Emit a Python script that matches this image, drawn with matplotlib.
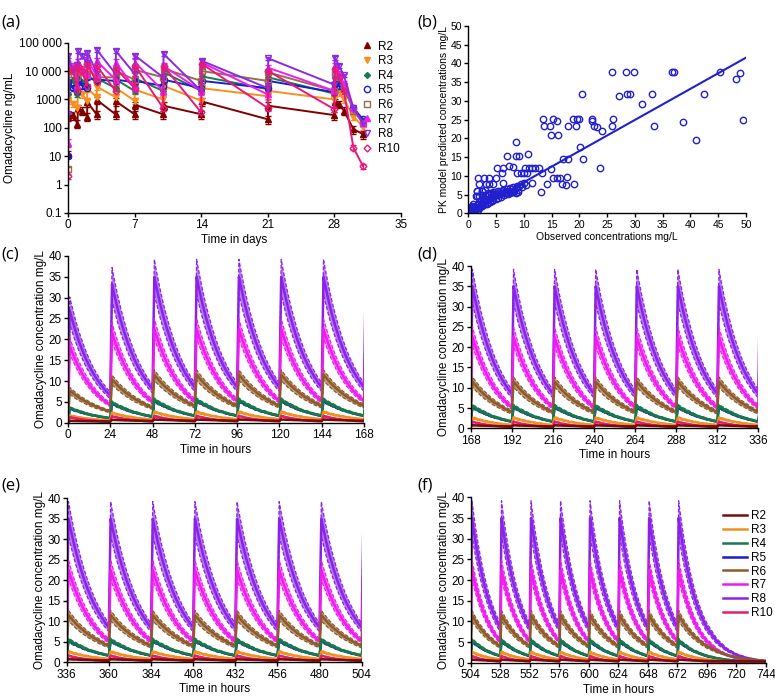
import matplotlib
matplotlib.use('Agg')
import matplotlib.pyplot as plt
import numpy as np
from matplotlib.lines import Line2D

plt.rcParams['font.family'] = ['Liberation Sans', 'DejaVu Sans']
plt.rcParams['font.size'] = 8.5

# ---------------- panel (a): observed concentrations, ng/mL ----------------
days = [0, 0.05, 0.5, 1, 1.05, 1.5, 2, 2.05, 3, 3.05, 5, 5.05, 7, 7.05, 10, 10.05,
        14, 14.05, 21, 21.05, 28, 28.05, 28.5, 29, 30, 31]
obs_R2 = [12, 250, 280, 140, 500, 400, 250, 800, 300, 950, 300, 850, 300, 650, 300, 600,
          300, 850, 200, 600, 280, 800, 700, 400, 90, 60]
obs_R3 = [900, 1200, 700, 500, 2000, 1500, 900, 2500, 1200, 2800, 1200, 2500, 900, 2200, 1000, 3000,
          900, 2500, 1300, 2000, 1000, 2000, 1800, 1000, 250, 110]
obs_R4 = [1500, 3000, 5000, 1500, 5500, 4000, 3000, 6000, 5000, 5500, 2500, 5000, 2000, 5500, 2000, 9000,
          2000, 6500, 2300, 6000, 1600, 5500, 4500, 2500, 500, 180]
obs_R5 = [10, 4000, 2500, 2000, 5000, 3000, 2500, 6000, 4500, 5000, 4500, 5000, 4000, 4500, 3000, 5000,
          2500, 4500, 2500, 4500, 1800, 3500, 3000, 2500, 500, 200]
obs_R6 = [3.5, 8000, 10000, 6000, 12000, 9000, 7000, 15000, 5500, 6000, 6000, 10000, 5000, 11000, 6000, 12000,
          4500, 10000, 4500, 9000, 2000, 8000, 6000, 3000, 400, 150]
obs_R7 = [30, 17000, 15000, 3000, 20000, 12000, 8000, 25000, 7000, 22000, 5000, 20000, 2500, 20000, 2000, 15000,
          2000, 20000, 1500, 13000, 2000, 15000, 8000, 3500, 500, 150]
obs_R8 = [300, 35000, 10000, 16000, 50000, 35000, 20000, 45000, 9000, 55000, 8000, 50000, 8000, 35000, 6000, 40000,
          2000, 23000, 2500, 28000, 3300, 30000, 15000, 7000, 500, 150]
obs_R10 = [2, 10000, 12000, 2000, 15000, 10000, 3000, 18000, 4000, 15000, 2000, 12000, 2500, 15000, 500, 15000,
           350, 18000, 500, 10000, 450, 12000, 6000, 2000, 20, 4.5]
rel_err = [0.3, 0.25, 0.2, 0.15, 0.2, 0.3, 0.15, 0.2]

regimens = ['R2', 'R3', 'R4', 'R5', 'R6', 'R7', 'R8', 'R10']
obs_all = [obs_R2, obs_R3, obs_R4, obs_R5, obs_R6, obs_R7, obs_R8, obs_R10]
colors_a = ['#800000', '#f7901e', '#1a7a4c', '#1c1cd0', '#9c6b4a', '#f01cf0', '#8a2be2', '#e6197a']
markers_a = ['^', 'v', 'D', 'o', 's', '^', 'v', 'D']
filled_a = [True, True, True, False, False, True, False, False]
msize_a = [4, 4, 3, 4.5, 4.5, 4, 5, 3.5]

# ---------------- panel (b): observed vs predicted, mg/L ----------------
obs_b = [25.8, 28.4, 29.8, 36.7, 37.0, 45.3, 48.2, 49.0, 49.4, 20.4, 27.2, 28.5, 29.2, 33.1, 42.4,
         31.3, 33.4, 38.6, 41.0, 13.5, 15.2, 15.9, 18.8, 19.5, 19.9, 22.3, 26.1, 13.7, 14.7, 17.9,
         19.3, 22.6, 23.2, 25.8, 24.1, 22.3, 14.8, 16.2, 20.1, 8.5, 7.0, 8.5, 9.2, 10.7, 7.3, 8.0,
         6.2, 17.1, 18.0, 20.7, 23.7, 10.2, 11.0, 11.5, 12.0, 12.8, 13.2, 14.9, 14.1, 19.0, 16.8,
         17.5, 17.7, 15.3, 15.9, 16.5, 13.0, 11.4, 1.8, 2.8, 3.8, 4.9, 1.9, 3.1, 3.7, 4.4, 1.6,
         2.5, 1.3, 5.1, 6.0, 6.3, 8.8, 9.5, 10.0, 10.6,
         0.1, 0.2, 0.3, 0.4, 0.5, 0.6, 0.7, 0.8, 0.9, 1.0, 1.1, 1.2, 1.3, 1.4, 1.5, 1.6, 1.7, 1.8,
         1.9, 2.0, 2.1, 2.2, 2.3, 2.4, 2.5, 2.6, 2.7, 2.8, 2.9, 3.0, 3.1, 3.2, 3.3, 3.4, 3.5, 3.6,
         3.7, 3.8, 3.9, 4.0, 4.1, 4.2, 4.3, 4.4, 4.5, 4.7, 4.8, 5.0, 5.1, 5.3, 5.4, 5.6, 5.8, 5.9,
         6.1, 6.3, 6.5, 6.7, 6.9, 7.1, 7.3, 7.5, 7.7, 7.9, 8.1, 8.3, 8.5, 8.7, 8.9, 9.1, 9.4, 9.7,
         10.0, 10.3, 0.2, 0.4, 0.6, 0.8, 1.0, 0.3, 0.5, 5.5, 6.0, 6.5, 7.0, 7.5, 8.0, 8.5, 9.0,
         3.0, 3.5, 4.5, 2.0, 2.5, 1.5, 1.6, 2.5, 3.0]
pred_b = [37.8, 37.8, 37.8, 37.8, 37.8, 37.8, 35.8, 37.4, 25.0, 31.7, 31.3, 31.7, 31.7, 31.7, 31.7,
          29.1, 23.4, 24.3, 19.6, 25.1, 25.1, 24.7, 25.1, 25.1, 25.1, 25.1, 25.1, 23.2, 23.2, 23.2,
          23.2, 23.2, 22.9, 23.2, 21.9, 24.5, 20.8, 20.8, 17.7, 19.0, 15.2, 15.4, 15.2, 15.8, 12.7, 12.3,
          12.1, 14.4, 14.6, 14.4, 12.0, 12.0, 12.0, 12.0, 12.0, 12.0, 10.7, 11.7, 7.8, 7.8, 7.8,
          7.5, 9.8, 9.3, 9.3, 9.3, 5.7, 8.2, 9.3, 9.3, 9.3, 9.3, 7.8, 7.8, 7.8, 7.8, 6.0,
          6.0, 4.7, 12.2, 10.7, 8.0, 10.8, 10.8, 10.8, 10.8,
          0.2, 0.1, 0.5, 0.3, 0.6, 0.4, 0.9, 0.6, 1.2, 0.8, 1.5, 0.9, 1.8, 1.1, 2.2, 1.3, 1.0, 2.6,
          1.5, 3.0, 1.7, 2.2, 3.4, 1.9, 2.5, 3.8, 2.1, 2.9, 4.2, 2.4, 3.3, 4.6, 2.6, 3.6, 5.0, 2.8,
          3.9, 5.2, 3.1, 4.2, 5.4, 3.3, 4.5, 5.6, 3.5, 4.8, 5.7, 3.8, 5.0, 5.9, 4.1, 5.2, 6.0, 4.4,
          5.3, 6.2, 4.8, 5.6, 6.4, 5.2, 6.0, 6.7, 5.6, 6.4, 7.0, 5.9, 6.8, 7.4, 6.3, 7.2, 7.8, 6.9,
          8.0, 7.5, 1.0, 1.6, 2.0, 2.4, 1.8, 0.8, 1.2, 5.2, 5.5, 5.3, 5.6, 5.4, 5.8, 5.5, 5.7,
          4.9, 5.3, 5.1, 4.7, 4.8, 4.6, 6.0, 6.0, 6.1]
fit_x = [0, 50]
fit_y = [0, 41.5]

# ---------------- panels (c)-(f): simulated profiles, mg/L ----------------
dose_hours = [0, 1, 2, 4, 6, 8, 10, 12, 14, 16, 18, 20, 22, 24]
n_doses = 29
prof = {
    'R2':  [0.45, 0.75, 0.73, 0.70, 0.66, 0.63, 0.60, 0.58, 0.55, 0.53, 0.51, 0.49, 0.47, 0.45],
    'R3':  [0.8, 2.6, 2.5, 2.2, 2.0, 1.8, 1.6, 1.5, 1.3, 1.2, 1.1, 1.0, 0.9, 0.8],
    'R4':  [1.7, 5.5, 5.2, 4.7, 4.3, 3.9, 3.5, 3.1, 2.8, 2.6, 2.3, 2.1, 1.9, 1.7],
    'R5':  [1.6, 5.3, 5.0, 4.5, 4.1, 3.7, 3.3, 3.0, 2.7, 2.5, 2.2, 2.0, 1.8, 1.6],
    'R6':  [4.0, 11.5, 11.0, 10.0, 9.1, 8.3, 7.6, 6.9, 6.3, 5.8, 5.3, 4.8, 4.4, 4.0],
    'R7':  [5.2, 22.5, 21.1, 18.6, 16.4, 14.4, 12.7, 11.2, 9.8, 8.7, 7.6, 6.7, 5.9, 5.2],
    'R8':  [8.5, 35.0, 32.9, 29.1, 25.7, 22.8, 20.1, 17.8, 15.7, 13.9, 12.3, 10.9, 9.6, 8.5],
    'R10': [0.3, 1.6, 1.5, 1.3, 1.1, 0.96, 0.83, 0.72, 0.62, 0.54, 0.46, 0.40, 0.35, 0.30],
}
# first and second dose relative to steady state
accum = {'R2': [0.6, 0.9], 'R3': [0.65, 0.9], 'R4': [0.65, 0.88], 'R5': [0.65, 0.88],
         'R6': [0.67, 0.9], 'R7': [0.82, 0.96], 'R8': [0.77, 0.95], 'R10': [0.8, 0.95]}
wash_hours = [32, 40, 48, 56, 64, 72]
wash = {
    'R2':  [0.43, 0.41, 0.39, 0.37, 0.35, 0.33],
    'R3':  [0.53, 0.35, 0.24, 0.16, 0.10, 0.07],
    'R4':  [1.13, 0.75, 0.50, 0.33, 0.22, 0.15],
    'R5':  [1.06, 0.71, 0.47, 0.31, 0.21, 0.14],
    'R6':  [2.77, 1.92, 1.33, 0.92, 0.64, 0.44],
    'R7':  [3.12, 1.87, 1.12, 0.67, 0.40, 0.24],
    'R8':  [5.20, 3.18, 1.94, 1.19, 0.73, 0.44],
    'R10': [0.17, 0.094, 0.052, 0.029, 0.016, 0.009],
}
band = {'R2': [0.93, 1.07], 'R3': [0.88, 1.1], 'R4': [0.9, 1.08], 'R5': [0.93, 1.06],
        'R6': [0.88, 1.1], 'R7': [0.9, 1.11], 'R8': [0.88, 1.12], 'R10': [0.88, 1.1]}
sim_colors = {'R2': '#7a0c0c', 'R3': '#f0901e', 'R4': '#187a4a', 'R5': '#1a1ad0',
              'R6': '#8f5a2a', 'R7': '#ee1cee', 'R8': '#8a22e8', 'R10': '#e0206a'}
draw_order = ['R5', 'R8', 'R7', 'R6', 'R4', 'R3', 'R10', 'R2']


def series(name):
    t, c = [], []
    for i in range(n_doses):
        f = accum[name][i] if i < 2 else 1.0
        start = 0 if i == 0 else 1
        for h, v in zip(dose_hours[start:], prof[name][start:]):
            t.append(24 * i + h)
            c.append(v * f)
    c[0] = 0.0
    last = 24 * (n_doses - 1)
    for h, v in zip(wash_hours, wash[name]):
        t.append(last + h)
        c.append(v)
    return np.array(t), np.array(c)


def style(ax):
    for s in ['top', 'right']:
        ax.spines[s].set_visible(False)
    for s in ['left', 'bottom']:
        ax.spines[s].set_linewidth(1.0)
    ax.tick_params(direction='out', length=3, width=1, labelsize=8.5, pad=1.5)


fig = plt.figure(figsize=(7.75, 6.96), dpi=100)

# ---- (a)
ax = fig.add_axes([0.0877, 0.694, 0.4297, 0.2447])
handles = []
for name, vals, col, mk, fl, ms, re in zip(regimens, obs_all, colors_a, markers_a, filled_a, msize_a, rel_err):
    v = np.array(vals, dtype=float)
    ax.errorbar(days, v, yerr=v * re, color=col, lw=1.4, marker=mk, ms=ms,
                mfc=col if fl else 'none', mec=col, mew=1.0, capsize=2, elinewidth=0.9)
    handles.append(Line2D([], [], ls='none', marker=mk, ms=ms, color=col,
                          mfc=col if fl else 'none', mec=col, mew=1.0, label=name))
ax.set_yscale('log')
ax.set_ylim(0.1, 100000)
ax.set_xlim(0, 35)
ax.set_yticks([0.1, 1, 10, 100, 1000, 10000, 100000])
ax.set_yticklabels(['0.1', '1', '10', '100', '1000', '10 000', '100 000'])
ax.minorticks_off()
ax.set_xticks([0, 7, 14, 21, 28, 35])
style(ax)
ax.set_xlabel('Time in days', fontsize=8.5, labelpad=2)
ax.set_ylabel('Omadacycline ng/mL', fontsize=8.5, labelpad=2)
ax.legend(handles=handles, loc='upper left', bbox_to_anchor=(0.865, 1.04), frameon=False,
          fontsize=8.5, handlelength=1.0, handletextpad=0.5, labelspacing=0.22, borderaxespad=0)
fig.text(0.002, 0.962, '(a)', fontsize=12, family=['Open Sans', 'DejaVu Sans'])

# ---- (b)
ax = fig.add_axes([0.6043, 0.6935, 0.3583, 0.2695])
ax.plot(obs_b, pred_b, ls='none', marker='o', ms=4.6, mfc='none', mec='#2020d0', mew=1.0)
ax.plot(fit_x, fit_y, color='#2020d0', lw=1.5)
ax.set_xlim(0, 50)
ax.set_ylim(0, 50)
ax.set_xticks(range(0, 51, 5))
ax.set_yticks(range(0, 51, 5))
style(ax)
ax.tick_params(labelsize=7.5)
ax.set_xlabel('Observed concentrations mg/L', fontsize=7.5, labelpad=2)
ax.set_ylabel('PK model predicted concentrations mg/L', fontsize=7.5, labelpad=1)
fig.text(0.538, 0.962, '(b)', fontsize=12, family=['Open Sans', 'DejaVu Sans'])

# ---- (c)-(f)
sim_axes = [
    ('(c)', [0.0877, 0.3927, 0.382, 0.2395], (0, 168), (0.002, 0.628)),
    ('(d)', [0.6074, 0.3846, 0.3711, 0.2332], (168, 336), (0.538, 0.628)),
    ('(e)', [0.0861, 0.0484, 0.3806, 0.2356], (336, 504), (0.002, 0.296)),
    ('(f)', [0.6074, 0.0477, 0.381, 0.2376], (504, 744), (0.538, 0.296)),
]
sims = {name: series(name) for name in draw_order}
for lab, rect, xl, lpos in sim_axes:
    ax = fig.add_axes(rect)
    for name in draw_order:
        t, c = sims[name]
        col = sim_colors[name]
        lo, hi = c * band[name][0], c * band[name][1]
        ax.fill_between(t, lo, hi, color=col, alpha=0.6, lw=0)
        ax.plot(t, lo, color=col, lw=0.9, ls=(0, (3, 1.5)))
        ax.plot(t, hi, color=col, lw=0.9, ls=(0, (3, 1.5)))
        ax.plot(t, c, color=col, lw=1.8, label=name)
    ax.set_xlim(*xl)
    ax.set_ylim(0, 40)
    ax.set_xticks(range(xl[0], xl[1] + 1, 24))
    ax.set_yticks(range(0, 41, 5))
    style(ax)
    ax.set_xlabel('Time in hours', fontsize=8.5, labelpad=2)
    ax.set_ylabel('Omadacycline concentration mg/L', fontsize=8.5, labelpad=1)
    fig.text(lpos[0], lpos[1], lab, fontsize=12, family=['Open Sans', 'DejaVu Sans'])
    if lab == '(f)':
        leg_handles = [Line2D([], [], color=sim_colors[n], lw=1.8, label=n) for n in regimens]
        ax.legend(handles=leg_handles, loc='upper left', bbox_to_anchor=(0.84, 0.95),
                  frameon=False, fontsize=8.5, handlelength=2.0, handletextpad=0.3,
                  labelspacing=0.15, borderaxespad=0)

fig.savefig('out.png', dpi=100)
